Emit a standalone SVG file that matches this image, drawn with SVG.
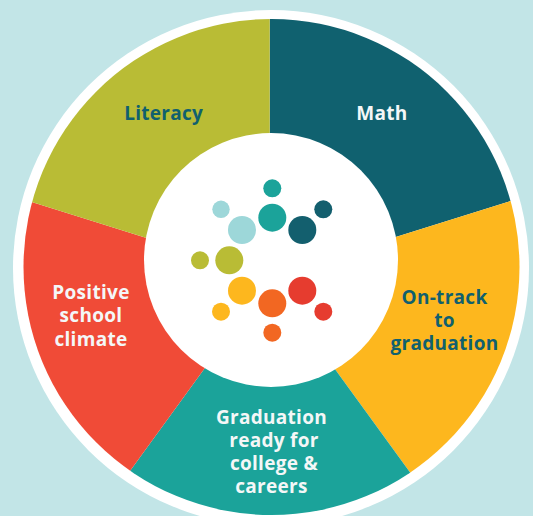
<svg xmlns="http://www.w3.org/2000/svg" width="533" height="516" viewBox="0 0 533 516">
<defs>
<clipPath id="ring"><circle cx="271.5" cy="267" r="248"/></clipPath>
<style>
.lbl{font-family:"Open Sans","Liberation Sans",sans-serif;font-weight:700;font-size:19px;text-anchor:middle;letter-spacing:0.3px}
.dk{fill:#10606e}
.wt{fill:#f4f7f7}
</style>
</defs>
<rect width="533" height="516" fill="#c2e5e7"/>
<circle cx="271" cy="268" r="258" fill="#ffffff"/>
<g clip-path="url(#ring)">
<g id="math"><polygon points="269.7,277 269.7,-100 745,-100 745,127.5 268,277" fill="#10616f"/></g>
<g id="ontrack"><polygon points="268,277 745,127.5 745,700 562,681.5" fill="#fdb71e"/></g>
<g id="graduation"><polygon points="268,277 562,681.5 -23,681.5 271,277" fill="#1ba39a"/></g>
<g id="climate"><polygon points="271,277 -23,681.5 -206,681.5 -206,127.5" fill="#f04b37"/></g>
<g id="literacy"><polygon points="271,277 -206,127.5 -206,-100 269.7,-100 269.7,277" fill="#b9bc35"/></g>
</g>
<g id="hub">
<circle cx="271" cy="260" r="127" fill="#ffffff"/>
<circle cx="272.3" cy="188.3" r="9" fill="#1ba39a"/>
<circle cx="221" cy="209.3" r="8.7" fill="#9dd7d9"/>
<circle cx="272.3" cy="217.7" r="14" fill="#1ba39a"/>
<circle cx="323.3" cy="209.3" r="9" fill="#135f6e"/>
<circle cx="242" cy="230" r="14" fill="#9dd7d9"/>
<circle cx="302.3" cy="230" r="14" fill="#135f6e"/>
<circle cx="200" cy="260.3" r="9" fill="#b9bc35"/>
<circle cx="229.3" cy="260.3" r="14" fill="#b9bc35"/>
<circle cx="242" cy="290.7" r="14" fill="#fdb71e"/>
<circle cx="302.3" cy="290.7" r="14" fill="#e63c2f"/>
<circle cx="221" cy="311.7" r="9" fill="#fdb71e"/>
<circle cx="272.3" cy="303.3" r="14" fill="#f26722"/>
<circle cx="323.3" cy="311.7" r="9" fill="#e63c2f"/>
<circle cx="272.3" cy="332.7" r="9" fill="#f26722"/>
</g>
<g id="labels">
<text class="lbl dk" x="163.7" y="119.5">Literacy</text>
<text class="lbl wt" x="382" y="120">Math</text>
<text class="lbl wt" x="91"><tspan x="91" y="299">Positive</tspan><tspan x="91" y="322">school</tspan><tspan x="91" y="345.5">climate</tspan></text>
<text class="lbl dk" x="444.5"><tspan x="444.5" y="304">On-track</tspan><tspan x="444.5" y="327">to</tspan><tspan x="444.5" y="349.5">graduation</tspan></text>
<text class="lbl wt" x="271.5"><tspan x="271.5" y="423.5">Graduation</tspan><tspan x="274" y="446.5">ready for</tspan><tspan x="274" y="469.5">college &amp;</tspan><tspan x="271.5" y="492.5">careers</tspan></text>
</g>
</svg>
